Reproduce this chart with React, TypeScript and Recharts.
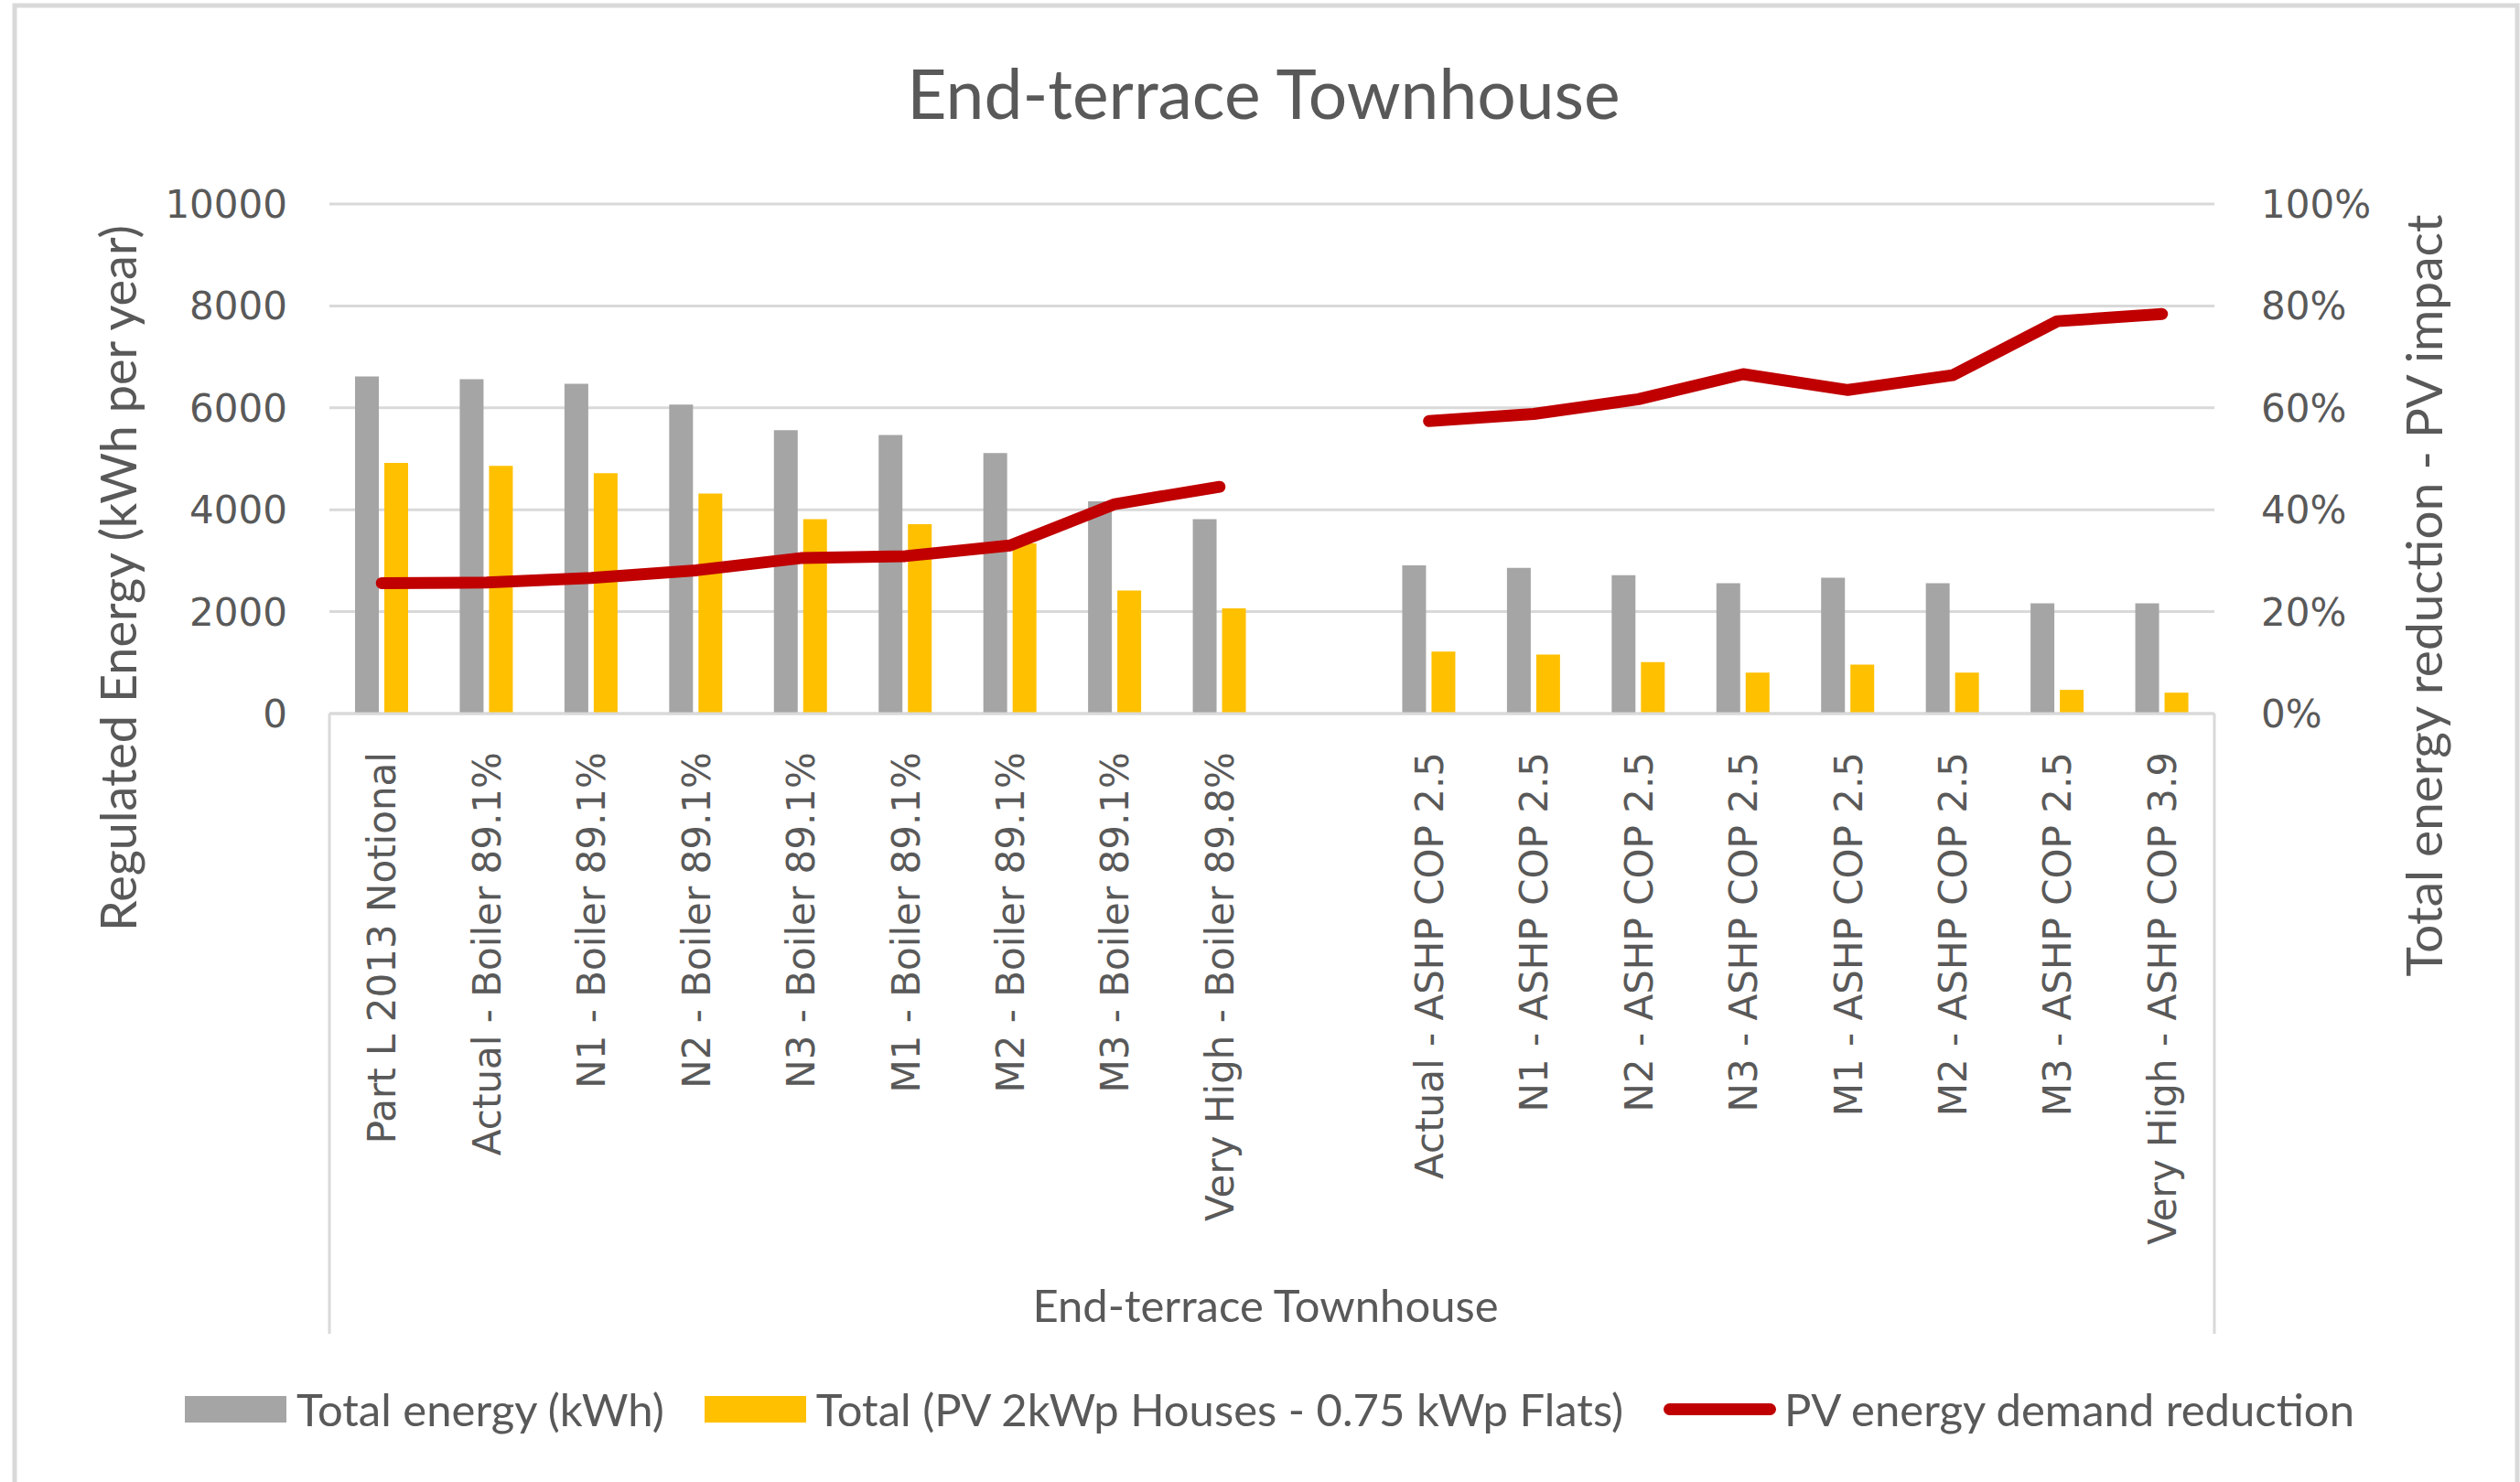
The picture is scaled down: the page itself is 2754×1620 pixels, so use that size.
import React from "react";
import {
  ComposedChart,
  Bar,
  Line,
  XAxis,
  YAxis,
  CartesianGrid,
  Legend,
} from "recharts";

const categories = [
  "Part L 2013 Notional",
  "Actual - Boiler 89.1%",
  "N1 - Boiler 89.1%",
  "N2 - Boiler 89.1%",
  "N3 - Boiler 89.1%",
  "M1 - Boiler 89.1%",
  "M2 - Boiler 89.1%",
  "M3 - Boiler 89.1%",
  "Very High - Boiler 89.8%",
  "",
  "Actual - ASHP COP 2.5",
  "N1 - ASHP COP 2.5",
  "N2 - ASHP COP 2.5",
  "N3 - ASHP COP 2.5",
  "M1 - ASHP COP 2.5",
  "M2 - ASHP COP 2.5",
  "M3 - ASHP COP 2.5",
  "Very High - ASHP COP 3.9",
];

const totalEnergy = [
  6615, 6560, 6470, 6065, 5560, 5465, 5110, 4165, 3815, null,
  2910, 2860, 2715, 2560, 2665, 2560, 2165, 2165,
];

const totalPV = [
  4920, 4860, 4715, 4320, 3815, 3715, 3340, 2415, 2065, null,
  1215, 1160, 1010, 805, 960, 805, 465, 410,
];

const pvReduction = [
  0.256, 0.257, 0.266, 0.281, 0.305, 0.309, 0.33, 0.411, 0.445, null,
  0.574, 0.588, 0.617, 0.666, 0.635, 0.664, 0.77, 0.784,
];

const leftTicks = [0, 2000, 4000, 6000, 8000, 10000];
const rightTicks = [0, 0.2, 0.4, 0.6, 0.8, 1];

const legendItems = [
  { label: "Total energy (kWh)", color: "#A5A5A5", kind: "rect" },
  { label: "Total (PV 2kWp Houses - 0.75 kWp Flats)", color: "#FFC000", kind: "rect" },
  { label: "PV energy demand reduction", color: "#C00000", kind: "line" },
];

const chartTitle = "End-terrace Townhouse";
const xAxisTitle = "End-terrace Townhouse";
const leftAxisTitle = "Regulated Energy (kWh per year)";
const rightAxisTitle = "Total energy reduction - PV impact";

const data = categories.map((name, i) => ({
  name,
  total: totalEnergy[i],
  pv: totalPV[i],
  reduction: pvReduction[i],
}));

const W = 2754;
const H = 1620;
const MARGIN = { top: 223, right: 134, bottom: 20, left: 160 };
const Y_W = 200;
const X_H = 700;
const LEGEND_H = 120;
const PLOT_LEFT = MARGIN.left + Y_W;
const PLOT_RIGHT = W - MARGIN.right - Y_W;
const PLOT_BOTTOM = H - MARGIN.bottom - LEGEND_H - X_H;

const TEXT = "#595959";
const GRID = "#D9D9D9";
const TICK_FONT = "'DejaVu Sans', Verdana, sans-serif";
const TITLE_FONT = "Lato, 'Open Sans', sans-serif";

const CategoryTick = (props: any) => {
  const { x, y, payload } = props;
  return (
    <text
      transform={`translate(${x},${y + 6}) rotate(-90)`}
      textAnchor="end"
      dy="0.36em"
      fontFamily={TICK_FONT}
      fontSize={42}
      fill={TEXT}
    >
      {payload.value}
    </text>
  );
};

const renderLegend = () => (
  <div
    style={{
      display: "flex",
      justifyContent: "center",
      alignItems: "center",
      height: LEGEND_H,
      fontFamily: TITLE_FONT,
      fontSize: 49,
      color: TEXT,
      whiteSpace: "nowrap",
      marginLeft: -5,
    }}
  >
    {legendItems.map((it, i) => (
      <div
        key={i}
        style={{ display: "flex", alignItems: "center", marginLeft: i === 0 ? 0 : 44 }}
      >
        {it.kind === "rect" ? (
          <div style={{ width: 111, height: 29, background: it.color, marginRight: 11 }} />
        ) : (
          <div
            style={{
              width: 123,
              height: 13,
              background: it.color,
              borderRadius: 7,
              marginRight: 9,
            }}
          />
        )}
        <span>{it.label}</span>
      </div>
    ))}
  </div>
);

export default function App() {
  return (
    <div style={{ position: "absolute", left: 0, top: 0, background: "#fff" }}>
      <ComposedChart
        width={W}
        height={H}
        data={data}
        margin={MARGIN}
        barGap={6}
        barCategoryGap={0}
      >
        <rect x={16} y={6} width={2735} height={1660} fill="none" stroke={GRID} strokeWidth={5} />
        <CartesianGrid
          yAxisId="left"
          vertical={false}
          stroke={GRID}
          strokeWidth={3}
        />
        <XAxis
          dataKey="name"
          type="category"
          interval={0}
          height={X_H}
          tickLine={false}
          tickSize={0}
          tickMargin={36}
          axisLine={{ stroke: GRID, strokeWidth: 3 }}
          tick={<CategoryTick />}
        />
        <YAxis
          yAxisId="left"
          orientation="left"
          width={Y_W}
          domain={[0, 10000]}
          ticks={leftTicks}
          interval={0}
          axisLine={false}
          tickLine={false}
          tickSize={0}
          tickMargin={46}
          tick={{ fontFamily: TICK_FONT, fontSize: 42, fill: TEXT }}
        />
        <YAxis
          yAxisId="right"
          orientation="right"
          width={Y_W}
          domain={[0, 1]}
          ticks={rightTicks}
          interval={0}
          axisLine={false}
          tickLine={false}
          tickSize={0}
          tickMargin={51}
          tickFormatter={(v: number) => `${Math.round(v * 100)}%`}
          tick={{ fontFamily: TICK_FONT, fontSize: 42, fill: TEXT }}
        />
        <Bar
          yAxisId="left"
          dataKey="total"
          name="Total energy (kWh)"
          fill="#A5A5A5"
          barSize={26}
          isAnimationActive={false}
        />
        <Bar
          yAxisId="left"
          dataKey="pv"
          name="Total (PV 2kWp Houses - 0.75 kWp Flats)"
          fill="#FFC000"
          barSize={26}
          isAnimationActive={false}
        />
        <Line
          yAxisId="right"
          dataKey="reduction"
          name="PV energy demand reduction"
          type="linear"
          stroke="#C00000"
          strokeWidth={13}
          strokeLinecap="round"
          strokeLinejoin="round"
          dot={false}
          activeDot={false}
          connectNulls={false}
          isAnimationActive={false}
        />
        <Legend verticalAlign="bottom" height={LEGEND_H} content={renderLegend} />
        <line x1={PLOT_LEFT} y1={PLOT_BOTTOM} x2={PLOT_LEFT} y2={1458} stroke={GRID} strokeWidth={3} />
        <line x1={PLOT_RIGHT} y1={PLOT_BOTTOM} x2={PLOT_RIGHT} y2={1458} stroke={GRID} strokeWidth={3} />
        <text
          x={1381}
          y={130}
          textAnchor="middle"
          fontFamily={TITLE_FONT}
          fontSize={75}
          fill={TEXT}
        >
          {chartTitle}
        </text>
        <text
          x={1383}
          y={1445}
          textAnchor="middle"
          fontFamily={TITLE_FONT}
          fontSize={49}
          fill={TEXT}
        >
          {xAxisTitle}
        </text>
        <text
          transform="translate(130,632) rotate(-90)"
          textAnchor="middle"
          dy="0.35em"
          fontFamily={TITLE_FONT}
          fontSize={54}
          fill={TEXT}
        >
          {leftAxisTitle}
        </text>
        <text
          transform="translate(2650,651) rotate(-90)"
          textAnchor="middle"
          dy="0.35em"
          fontFamily={TITLE_FONT}
          fontSize={55}
          fill={TEXT}
        >
          {rightAxisTitle}
        </text>
      </ComposedChart>
    </div>
  );
}
